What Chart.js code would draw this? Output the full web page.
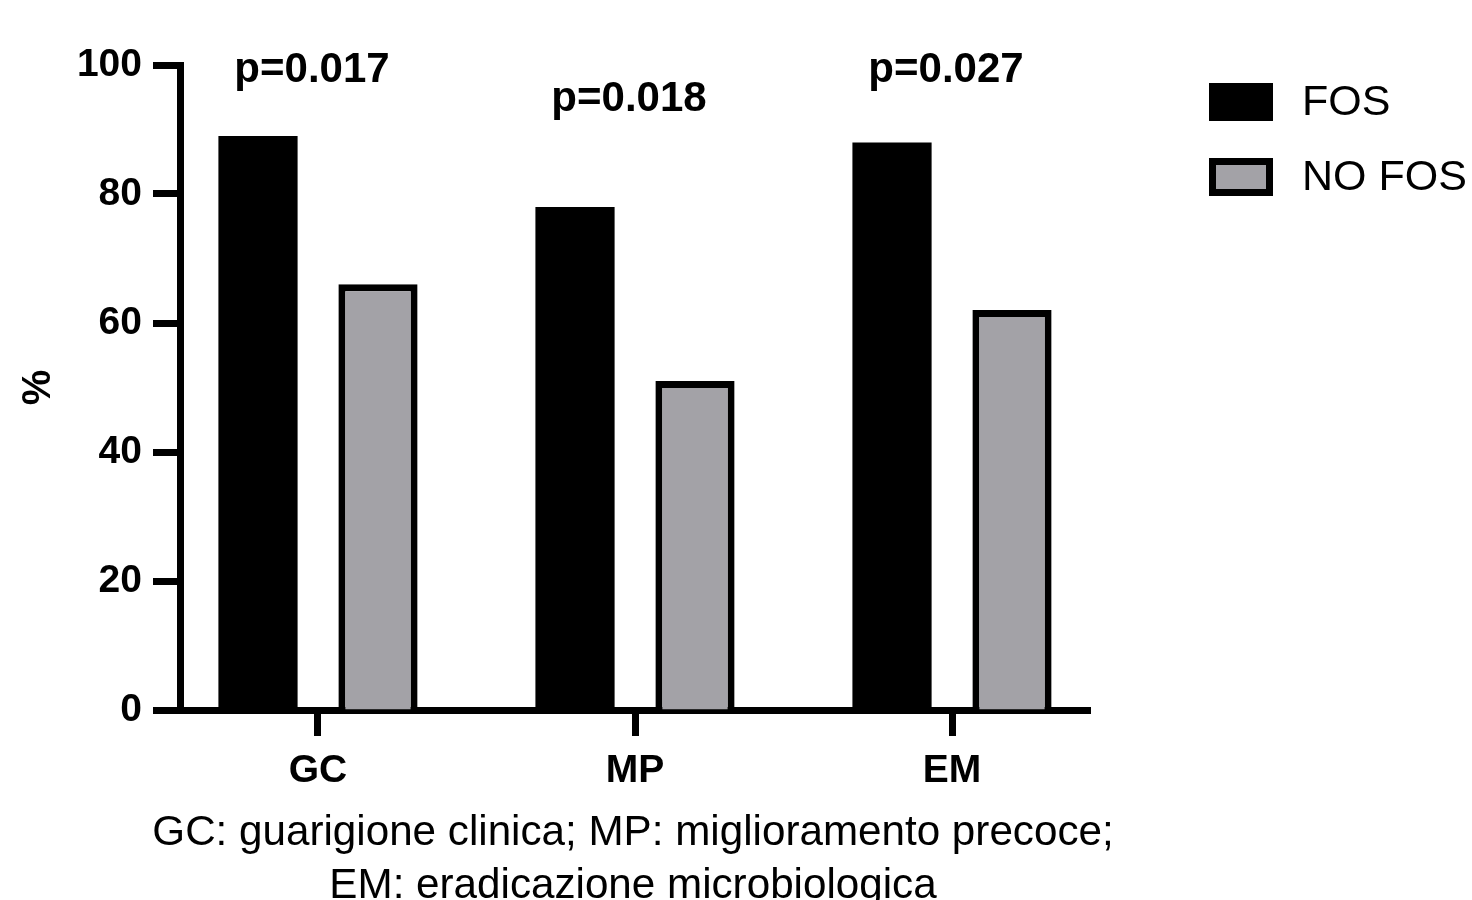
<!DOCTYPE html>
<html>
<head>
<meta charset="utf-8">
<script src="https://cdn.jsdelivr.net/npm/chart.js@4.4.1/dist/chart.umd.min.js"></script>
<style>
  html, body { margin: 0; padding: 0; background: #fff; }
  #wrap { width: 1472px; height: 900px; }
</style>
</head>
<body>
<div id="wrap"><canvas id="barChart" width="1472" height="900"></canvas></div>
<script>
const FONT = '"Liberation Sans", Arial, Helvetica, sans-serif';

// data
const categories = ["GC", "MP", "EM"];
const fosValues = [89, 78, 88];
const noFosValues = [66, 51, 62];
const seriesLabels = ["FOS", "NO FOS"];
const pValues = ["p=0.017", "p=0.018", "p=0.027"];
const pLevels = [99.2, 94.6, 99.2]; // where each p label sits, in % units
const yTicks = [0, 20, 40, 60, 80, 100];
const caption = ["GC: guarigione clinica; MP: miglioramento precoce;", "EM: eradicazione microbiologica"];

const GREY = "#a3a2a7";

// p-value text above each group
const pLabelPlugin = {
    id: "pLabels",
    afterDatasetsDraw(chart) {
        const ctx = chart.ctx;
        const x = chart.scales.x;
        const y = chart.scales.y;
        ctx.save();
        ctx.fillStyle = "#000";
        ctx.font = "bold 42px " + FONT;
        ctx.textAlign = "center";
        ctx.textBaseline = "middle";
        pValues.forEach((txt, i) => {
            ctx.fillText(txt, x.getPixelForValue(i) - 6, y.getPixelForValue(pLevels[i]));
        });
        ctx.restore();
    }
};

// caption under the x axis (drawn here so it is not squeezed to the axis width)
const captionPlugin = {
    id: "caption",
    afterDraw(chart) {
        const ctx = chart.ctx;
        const x = chart.scales.x;
        const cx = (x.left + x.right) / 2;
        ctx.save();
        ctx.fillStyle = "#000";
        ctx.font = "42.2px " + FONT;
        ctx.textAlign = "center";
        ctx.textBaseline = "middle";
        caption.forEach((line, i) => {
            ctx.fillText(line, cx - 2, x.top + 123 + i * 53);
        });
        ctx.restore();
    }
};

// legend on the right, built from the datasets
const sideLegendPlugin = {
    id: "sideLegend",
    afterDraw(chart) {
        const ctx = chart.ctx;
        const area = chart.chartArea;
        const left = area.right + 119;
        ctx.save();
        ctx.font = "43px " + FONT;
        ctx.textBaseline = "middle";
        chart.data.datasets.forEach((ds, i) => {
            const top = area.top + 18 + i * 75;
            const bw = ds.borderWidth;
            ctx.fillStyle = ds.borderColor;
            ctx.fillRect(left, top, 64, 38);
            ctx.fillStyle = ds.backgroundColor;
            ctx.fillRect(left + bw, top + bw, 64 - 2 * bw, 38 - 2 * bw);
            ctx.fillStyle = "#000";
            ctx.fillText(ds.label, left + 93, top + 20);
        });
        ctx.restore();
    }
};

const ctx = document.getElementById("barChart").getContext("2d");

new Chart(ctx, {
    type: "bar",
    data: {
        datasets: [
            {
                label: seriesLabels[0],
                data: fosValues.map((v, i) => ({ x: i, y: v })),
                backgroundColor: "#000",
                borderColor: "#000",
                borderWidth: 0
            },
            {
                label: seriesLabels[1],
                data: noFosValues.map((v, i) => ({ x: i, y: v })),
                backgroundColor: GREY,
                borderColor: "#000",
                borderWidth: 7
            }
        ]
    },
    options: {
        responsive: false,
        animation: false,
        categoryPercentage: 0.757,
        barPercentage: 0.66,
        layout: { padding: { top: 65, right: 382, left: 0, bottom: 0 } },
        plugins: {
            legend: { display: false },
            tooltip: { enabled: false }
        },
        scales: {
            x: {
                type: "linear",
                offset: false,
                min: -0.4353,
                max: 2.4353,
                afterBuildTicks(scale) {
                    scale.ticks = categories.map((c, i) => ({ value: i }));
                },
                afterFit(scale) { scale.height = 190; },
                border: { display: true, color: "#000", width: 7 },
                grid: { offset: false, drawOnChartArea: false, drawTicks: true, tickLength: 26, tickWidth: 7, tickColor: "#000" },
                ticks: {
                    color: "#000",
                    padding: 12,
                    font: { family: FONT, size: 39, weight: "bold" },
                    callback: (v) => categories[v]
                }
            },
            y: {
                min: 0,
                max: 100,
                afterBuildTicks(scale) {
                    scale.ticks = yTicks.map(v => ({ value: v }));
                },
                afterFit(scale) { scale.width = 180; },
                border: { display: true, color: "#000", width: 7 },
                grid: { drawOnChartArea: false, drawTicks: true, tickLength: 27, tickWidth: 7, tickColor: "#000" },
                ticks: {
                    color: "#000",
                    padding: 11,
                    font: { family: FONT, size: 39, weight: "bold" }
                },
                title: {
                    display: true,
                    text: "%",
                    color: "#000",
                    font: { family: FONT, size: 40, weight: "bold" },
                    padding: { top: 15, bottom: 0 }
                }
            }
        }
    },
    plugins: [pLabelPlugin, captionPlugin, sideLegendPlugin]
});
</script>
</body>
</html>
